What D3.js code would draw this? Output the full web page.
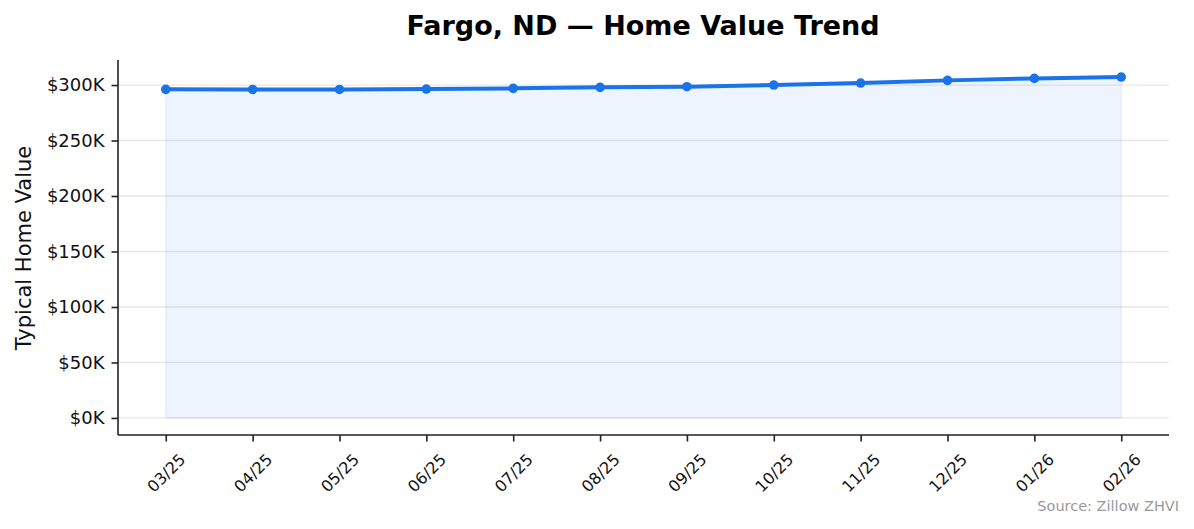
<!DOCTYPE html>
<html><head><meta charset="utf-8">
<script src="https://cdn.jsdelivr.net/npm/d3@7"></script>
<style>
body{margin:0;background:#fff;}
svg{display:block;font-family:"DejaVu Sans",sans-serif;}
</style></head>
<body><svg id="c" width="1194" height="529"></svg>
<script>
const months = ["03/25","04/25","05/25","06/25","07/25","08/25","09/25","10/25","11/25","12/25","01/26","02/26"];
const values = [296100,296000,296000,296400,297000,297900,298500,300000,301800,304200,306000,307200];
const yTicks = [0,50000,100000,150000,200000,250000,300000];

const svg = d3.select("#c");
const L=118, R=1169, T=60, B=435;
const blue="#1a73e8";

const x = d3.scalePoint().domain(months).range([L,R]).padding(0.55);
const vmax = d3.max(values);
const y = d3.scaleLinear().domain([-vmax*0.05, vmax*1.05]).range([B,T]);

// grid
svg.append("g").selectAll("line").data(yTicks).join("line")
  .attr("x1",L).attr("x2",R).attr("y1",d=>y(d)).attr("y2",d=>y(d))
  .attr("stroke","#b0b0b0").attr("stroke-opacity",0.3).attr("stroke-width",1.3);

const data = months.map((m,i)=>({m,v:values[i]}));
// area
svg.append("path").datum(data)
  .attr("d", d3.area().x(d=>x(d.m)).y0(y(0)).y1(d=>y(d.v)))
  .attr("fill",blue).attr("fill-opacity",0.08)
  .attr("stroke",blue).attr("stroke-opacity",0.08).attr("stroke-width",1.5);
// line
svg.append("path").datum(data)
  .attr("d", d3.line().x(d=>x(d.m)).y(d=>y(d.v)))
  .attr("fill","none").attr("stroke",blue).attr("stroke-width",4).attr("stroke-linejoin","round").attr("stroke-linecap","round");
svg.append("g").selectAll("circle").data(data).join("circle")
  .attr("cx",d=>x(d.m)).attr("cy",d=>y(d.v)).attr("r",4.8).attr("fill",blue);

// axes
const yAxis = svg.append("g").attr("transform",`translate(${L},0)`)
  .call(d3.axisLeft(y).tickValues(yTicks).tickFormat(d=>"$"+(d/1000)+"K").tickSize(6.5).tickPadding(7));
const xAxis = svg.append("g").attr("transform",`translate(0,${B})`)
  .call(d3.axisBottom(x).tickSize(6.5).tickPadding(4));
[yAxis,xAxis].forEach(a=>{
  a.select(".domain").attr("stroke","#222").attr("stroke-width",1.6);
  a.selectAll(".tick line").attr("stroke","#222").attr("stroke-width",1.6);
});
yAxis.select(".domain").attr("d",`M0,${T}V${B}`);
xAxis.select(".domain").attr("d",`M${L},0H${R}`);
yAxis.selectAll(".tick text").attr("font-size",18).attr("fill","#111").attr("font-family","DejaVu Sans");
xAxis.selectAll(".tick text").attr("font-size",16).attr("fill","#111").attr("font-family","DejaVu Sans")
  .attr("text-anchor","middle").attr("y",0).attr("dy","0.35em")
  .attr("transform","translate(0,38) rotate(-45)");

// y label
svg.append("text").attr("transform",`translate(31,248) rotate(-90)`)
  .attr("text-anchor","middle").attr("font-size",21).attr("fill","#111").text("Typical Home Value");
// title
svg.append("text").attr("x",643).attr("y",35).attr("text-anchor","middle")
  .attr("font-size",27).attr("font-weight","bold").attr("fill","#000").text("Fargo, ND — Home Value Trend");
// source
svg.append("text").attr("x",1179).attr("y",511).attr("text-anchor","end")
  .attr("font-size",14.5).attr("fill","#999").text("Source: Zillow ZHVI");
</script></body></html>
